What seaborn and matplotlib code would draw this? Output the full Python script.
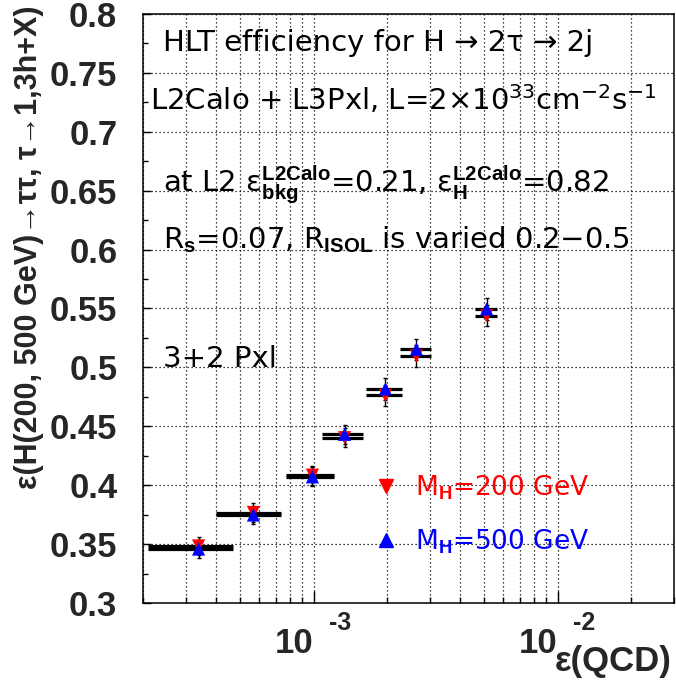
import numpy as np
import pandas as pd
import matplotlib
matplotlib.use('Agg')
import matplotlib.pyplot as plt
import matplotlib.transforms as mtransforms
import seaborn as sns
from matplotlib.lines import Line2D
from matplotlib.ticker import FixedLocator, FixedFormatter, MultipleLocator, LogLocator, NullFormatter

# Valores (eficiencia QCD vs eficiencia señal)
qcd_eff = [3.38e-4, 5.67e-4, 9.9e-4, 1.34e-3, 1.97e-3, 2.64e-3, 5.12e-3]
qcd_err = [1.29e-4, 1.70e-4, 2.20e-4, 2.60e-4, 3.30e-4, 3.80e-4, 5.30e-4]
eff_h200 = [0.3484, 0.3768, 0.4085, 0.4403, 0.4762, 0.5097, 0.5439]
eff_h500 = [0.3458, 0.3747, 0.4071, 0.4432, 0.4817, 0.5154, 0.5496]
err_h200 = [0.008, 0.008, 0.008, 0.008, 0.009, 0.009, 0.009]
err_h500 = [0.008, 0.008, 0.008, 0.008, 0.009, 0.009, 0.009]
masas = ['200', '500']
leyendas = [r'M$_\mathbf{H}$=200 GeV', r'M$_\mathbf{H}$=500 GeV']
COL = {'200': '#ff0000', '500': '#0000ff'}
MARK = {'200': 'v', '500': '^'}

x_ticks = [1e-3, 1e-2]
x_ticklabels = ['10', '10']
x_exponents = ['-3', '-2']
y_ticks = [0.3, 0.35, 0.4, 0.45, 0.5, 0.55, 0.6, 0.65, 0.7, 0.75, 0.8]
y_ticklabels = ['0.3', '0.35', '0.4', '0.45', '0.5', '0.55', '0.6', '0.65', '0.7', '0.75', '0.8']

sns.set_style('ticks')
plt.rcParams.update({
    'mathtext.fontset': 'custom',
    'mathtext.rm': 'DejaVu Sans',
    'mathtext.it': 'DejaVu Sans:italic',
    'mathtext.bf': 'Liberation Sans:bold',
    'axes.linewidth': 1.1,
    'axes.edgecolor': 'black',
})
plt.rcParams['font.family'] = ['DejaVu Sans']
BOLD = dict(fontweight='bold', family=['Liberation Sans', 'DejaVu Sans'])

df = pd.DataFrame({
    'qcd': qcd_eff + qcd_eff,
    'eff': eff_h200 + eff_h500,
    'masa': [masas[0]] * len(qcd_eff) + [masas[1]] * len(qcd_eff),
})

fig = plt.figure(figsize=(6.76, 6.87), dpi=100)
ax = fig.add_axes([0.2115, 0.1223, 0.7855, 0.8573])
ax.set_xscale('log')

# barras de error (x gruesas, y finas)
for y, e in [(eff_h200, err_h200), (eff_h500, err_h500)]:
    ax.errorbar(qcd_eff, y, xerr=qcd_err, fmt='none', ecolor='black',
                elinewidth=2.3, capsize=0, zorder=2)
    ax.errorbar(qcd_eff, y, yerr=e, fmt='none', ecolor='black',
                elinewidth=1.0, capsize=1.5, capthick=1.0, zorder=2)

sns.scatterplot(data=df, x='qcd', y='eff', hue='masa', style='masa',
                markers=MARK, palette=COL, s=90, linewidth=0,
                legend=False, ax=ax, zorder=4)

ax.set_xlim(2e-4, 3e-2)
ax.set_ylim(0.3, 0.8)

# ejes
ax.xaxis.set_major_locator(FixedLocator(x_ticks))
ax.xaxis.set_major_formatter(FixedFormatter(x_ticklabels))
ax.xaxis.set_minor_locator(LogLocator(base=10, subs=np.arange(2, 10)))
ax.xaxis.set_minor_formatter(NullFormatter())
ax.yaxis.set_major_locator(FixedLocator(y_ticks))
ax.yaxis.set_major_formatter(FixedFormatter(y_ticklabels))
ax.yaxis.set_minor_locator(MultipleLocator(0.025))

ax.tick_params(which='both', direction='in', top=False, right=False, color='black')
ax.tick_params(axis='y', which='major', length=6, width=1, pad=18.5, labelsize=25)
ax.tick_params(axis='y', which='minor', length=3.5, width=1)
ax.tick_params(axis='x', which='major', length=9, width=1, pad=17, labelsize=25)
ax.tick_params(axis='x', which='minor', length=4.5, width=1)
for lab in ax.get_yticklabels() + ax.get_xticklabels():
    lab.set_fontfamily('Liberation Sans')
    lab.set_fontweight('bold')
for lab in ax.get_xticklabels():
    lab.set_ha('right')

# exponentes de las décadas, estilo ROOT
trans = mtransforms.blended_transform_factory(ax.transData, ax.transAxes)
for xt, ex in zip(x_ticks, x_exponents):
    ax.text(xt * 1.16, -0.014, ex, transform=trans, fontsize=18, va='top',
            ha='left', **BOLD)

ax.grid(True, which='both', axis='x', color='black', lw=0.9, dashes=(1, 2.2))
ax.grid(True, which='major', axis='y', color='black', lw=0.9, dashes=(1, 2.2))
ax.set_axisbelow(True)

ax.set_ylabel('ε(H(200, 500 GeV)→ττ, τ→1,3h+X)', loc='top', fontsize=22, **BOLD)
ax.yaxis.set_label_coords(-0.187, 1.015)
ax.set_xlabel('ε(QCD)', loc='right', fontsize=25, **BOLD)
ax.xaxis.set_label_coords(0.996, -0.072)

# textos del panel
kw = dict(transform=ax.transAxes, fontsize=21, va='baseline', ha='left', color='black')
ax.text(0.0377, 0.938, 'HLT efficiency for H → 2τ → 2j', **kw)
ax.text(0.0132, 0.837, r'L2Calo + L3Pxl, L=2×10$^{33}$cm$^{-2}$s$^{-1}$', **kw)
ax.text(0.0377, 0.698, r'at L2 ε$_{\mathbf{bkg}}^{\mathbf{L2Calo}}$=0.21, '
        r'ε$_{\mathbf{H}}^{\mathbf{L2Calo}}$=0.82', **kw)
ax.text(0.0377, 0.6025, r'R$_\mathbf{s}$=0.07, R$_\mathbf{ISOL}$ is varied 0.2−0.5', **kw)
ax.text(0.0377, 0.4007, '3+2 Pxl', **kw)

handles = [Line2D([], [], marker=MARK[m], color=COL[m], ls='none', markersize=10)
           for m in masas]
ax.legend(handles, leyendas, loc='center left', bbox_to_anchor=(0.4333, 0.150),
          frameon=False, fontsize=19, handlelength=1.0, handletextpad=0.6,
          labelspacing=0.95, borderpad=0, borderaxespad=0,
          labelcolor=[COL[m] for m in masas])

fig.savefig('out.png', dpi=100)
